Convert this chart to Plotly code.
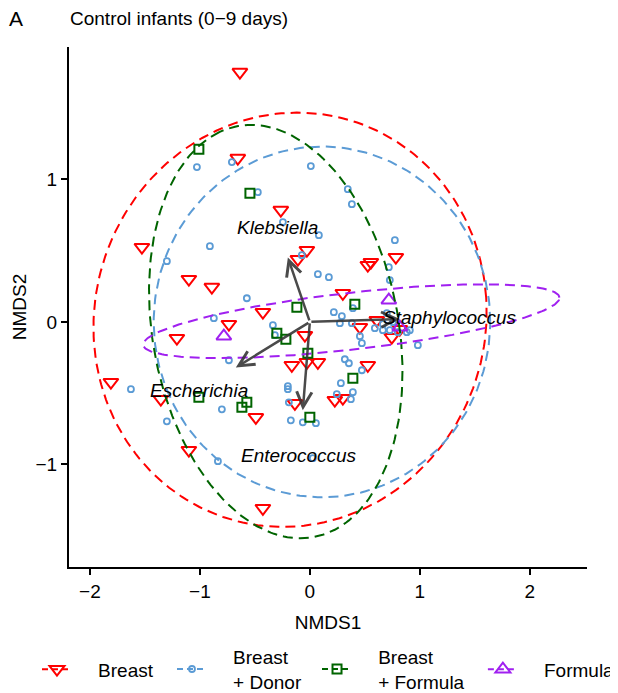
import numpy as np
import plotly.graph_objects as go

# ---------------- data ----------------
breast_x = [-0.636, -0.655, -0.264, -0.027, -0.109, -1.527, -1.100, -0.891, 0.527, 0.555,
            0.782, 0.300, -0.427, -0.736, -1.209, -0.045, 0.455, -0.164, -0.027, 0.073,
            0.527, -1.809, -1.355, -0.491, -0.136, 0.227, 0.300, -1.100, -0.427, 0.745,
            0.818, 0.609]
breast_y = [1.752, 1.149, 0.784, 0.503, 0.440, 0.524, 0.300, 0.244, 0.398, 0.419,
            0.454, 0.201, 0.068, -0.016, -0.114, -0.093, -0.037, -0.304, -0.283, -0.283,
            -0.304, -0.423, -0.542, -0.669, -0.571, -0.549, -0.535, -0.900, -1.307, -0.107,
            -0.051, 0.012]

donor_x = [-1.027, -0.709, -0.473, -0.909, 0.009, 0.345, 0.382, -0.245, 0.082, -0.073,
           0.073, 0.173, 0.773, 0.718, 0.727, -0.573, 0.218, 0.291, 0.391, 0.273,
           0.382, 0.455, 0.473, -0.336, -0.318, 0.318, 0.355, 0.473, 0.282, -0.200,
           -0.200, 0.245, 0.391, 0.373, -0.191, -0.173, -0.064, 0.055, -1.300, -0.873,
           -0.736, -1.627, -0.800, -1.300, -0.836, 0.027, 0.591, 0.664, 0.727, 0.800,
           0.882, 0.909, 0.982, 0.664, 0.755, 0.700]
donor_y = [1.086, 1.121, 0.910, 0.531, 1.093, 0.931, 0.826, 0.700, 0.608, 0.468,
           0.335, 0.314, 0.573, 0.384, 0.293, 0.166, 0.068, 0.040, 0.096, -0.009,
           -0.009, -0.100, -0.149, -0.023, -0.093, -0.262, -0.290, -0.339, -0.430, -0.451,
           -0.472, -0.507, -0.493, -0.542, -0.564, -0.690, -0.704, -0.710, 0.426, 0.026,
           -0.269, -0.472, -0.613, -0.697, -0.977, -0.956, -0.044, -0.058, -0.058, -0.072,
           -0.072, -0.058, -0.163, -0.016, -0.002, 0.061]

bformula_x = [-1.009, -0.545, -0.118, 0.409, -0.300, -0.218, -0.018, 0.391, -0.573, -0.618,
              0.000, -1.009]
bformula_y = [1.211, 0.902, 0.103, 0.124, -0.079, -0.121, -0.219, -0.395, -0.564, -0.599,
              -0.669, -0.528]

formula_x = [0.718, -0.782, 0.818]
formula_y = [0.152, -0.100, -0.037]

group_lines = [["Breast"], ["Breast", "+ Donor"], ["Breast", "+ Formula"], ["Formula"]]
group_x = [breast_x, donor_x, bformula_x, formula_x]
group_y = [breast_y, donor_y, bformula_y, formula_y]

# ellipse parameters (centre, semi-axes, rotation in degrees)
ell_cx = [-0.18, 0.11, -0.31, 0.377]
ell_cy = [0.015, 0.0, -0.068, 0.005]
ell_a = [1.79, 1.53, 1.49, 1.90]
ell_b = [1.45, 1.23, 1.10, 0.20]
ell_angle = [5, 0, 110, 5]

# fitted genus vectors
genera = ["Klebsiella", "Escherichia", "Enterococcus", "Staphylococcus"]
vec_x = [-0.200, -0.673, -0.064, 0.818]
vec_y = [0.452, -0.320, -0.620, 0.020]
label_x = [-0.295, -1.005, -0.095, 1.27]
label_y = [0.665, -0.480, -0.935, 0.033]

x_ticks = [-2, -1, 0, 1, 2]
y_ticks = [-1, 0, 1]

# ---------------- styling ----------------
colors = ["#FF0000", "#5B9BD5", "#006400", "#A020F0"]
symbols = ["triangle-down-open", "circle-open", "square-open", "triangle-up-open"]
msizes = [13, 6, 9, 13]
mwidths = [2, 1.8, 2, 2]
legend_ids = ["legend", "legend2", "legend3", "legend4"]
legend_xpos = [-0.0618, 0.1988, 0.4788, 0.799]
FONT = "Liberation Sans, Arial, sans-serif"
FS = 19
PAD_L = "\u00a0" * 4

fig = go.Figure()

for xs, ys, c, s, ms, mw in zip(group_x, group_y, colors, symbols, msizes, mwidths):
    fig.add_trace(go.Scatter(x=xs, y=ys, mode="markers", showlegend=False,
                             marker=dict(symbol=s, size=ms, color=c, line=dict(width=mw, color=c)),
                             hoverinfo="skip"))

t = np.linspace(0, 2 * np.pi, 241)
for cx, cy, a, b, ang, c in zip(ell_cx, ell_cy, ell_a, ell_b, ell_angle, colors):
    th = np.deg2rad(ang)
    ex = cx + a * np.cos(t) * np.cos(th) - b * np.sin(t) * np.sin(th)
    ey = cy + a * np.cos(t) * np.sin(th) + b * np.sin(t) * np.cos(th)
    fig.add_trace(go.Scatter(x=ex, y=ey, mode="lines", showlegend=False,
                             line=dict(color=c, width=2, dash="10px,6px"), hoverinfo="skip"))

# legend-only entries, one legend box per group so each is centred vertically
for lines, c, s, ms, mw, lid in zip(group_lines, colors, symbols, msizes, mwidths, legend_ids):
    name = "<br>".join(PAD_L + ln for ln in lines)
    fig.add_trace(go.Scatter(x=[None], y=[None], mode="lines+markers", name=name, legend=lid,
                             line=dict(color=c, width=2, dash="6px,4px"),
                             marker=dict(symbol=s, size=ms, color=c, line=dict(width=mw, color=c))))

annotations = []
for vx, vy in zip(vec_x, vec_y):
    annotations.append(dict(x=vx, y=vy, ax=0, ay=0, xref="x", yref="y", axref="x", ayref="y",
                            text="", showarrow=True, arrowhead=5, arrowsize=1.2, arrowwidth=2.5,
                            arrowcolor="rgba(55,55,55,0.9)", standoff=0))
for g, lx, ly in zip(genera, label_x, label_y):
    annotations.append(dict(x=lx, y=ly, xref="x", yref="y", text="<i>%s</i>" % g, showarrow=False,
                            font=dict(family=FONT, size=FS, color="black")))
annotations.append(dict(x=-0.120, y=1.054, xref="paper", yref="paper", text="A", showarrow=False,
                        xanchor="left", yanchor="middle", font=dict(family=FONT, size=21, color="black")))
annotations.append(dict(x=-0.002, y=1.054, xref="paper", yref="paper", text="Control infants (0\u22129 days)",
                        showarrow=False, xanchor="left", yanchor="middle",
                        font=dict(family=FONT, size=FS, color="black")))

axis_common = dict(showline=True, linewidth=2, linecolor="black", ticks="outside", ticklen=6,
                   tickwidth=2, tickcolor="black", showgrid=False, zeroline=False, automargin=False,
                   tickfont=dict(family=FONT, size=FS, color="black"), mirror=False)

legend_common = dict(orientation="h", xanchor="left", y=-0.1967, yanchor="middle",
                     font=dict(family=FONT, size=FS, color="black"), bgcolor="rgba(0,0,0,0)")

fig.update_layout(
    width=610, height=685,
    margin=dict(l=61, r=31, t=39, b=126, autoexpand=False),
    paper_bgcolor="white", plot_bgcolor="white",
    font=dict(family=FONT, size=FS, color="black"),
    xaxis=dict(range=[-2.19, 2.52], tickvals=x_ticks,
               title=dict(text="NMDS1", font=dict(family=FONT, size=FS)), **axis_common),
    yaxis=dict(range=[-1.719, 1.928], tickvals=y_ticks,
               title=dict(text="NMDS2", standoff=4, font=dict(family=FONT, size=FS)), **axis_common),
    legend=dict(x=legend_xpos[0], **legend_common),
    legend2=dict(x=legend_xpos[1], **legend_common),
    legend3=dict(x=legend_xpos[2], **legend_common),
    legend4=dict(x=legend_xpos[3], **legend_common),
    annotations=annotations,
    showlegend=True,
)

fig.write_html("out.html")
